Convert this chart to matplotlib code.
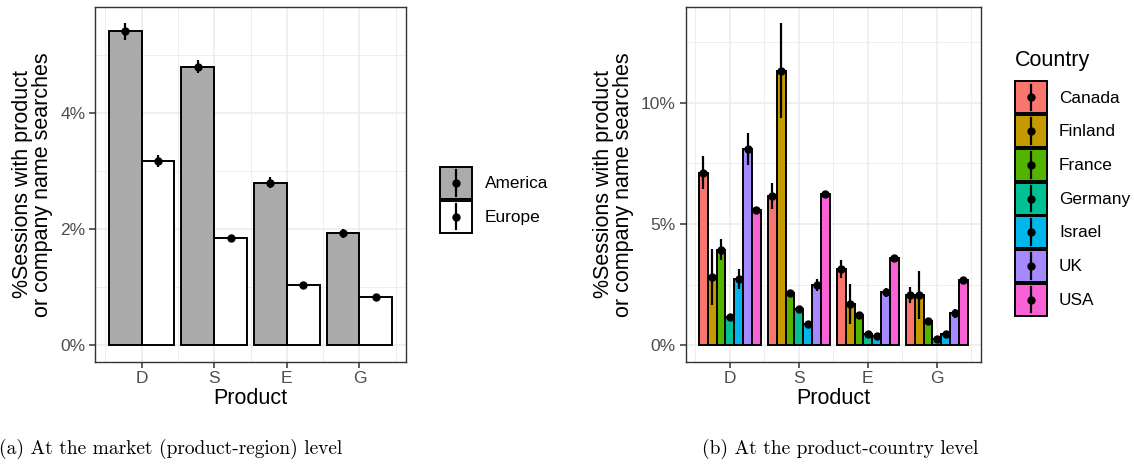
import numpy as np
import matplotlib
matplotlib.use("Agg")
from matplotlib import pyplot as plt
from matplotlib.patches import Patch, Rectangle
from matplotlib.lines import Line2D
from matplotlib.ticker import FuncFormatter

plt.rcParams["font.family"] = ["Liberation Sans", "DejaVu Sans"]

# data
products = ["D", "S", "E", "G"]

regions = ["America", "Europe"]
america = [5.40, 4.79, 2.80, 1.93]
america_err = [0.14, 0.11, 0.09, 0.08]
europe = [3.17, 1.85, 1.04, 0.83]
europe_err = [0.11, 0.03, 0.02, 0.02]

countries = ["Canada", "Finland", "France", "Germany", "Israel", "UK", "USA"]
# values per product: D, S, E, G
country_vals = {
    "Canada":  [7.12, 6.16, 3.15, 2.08],
    "Finland": [2.82, 11.32, 1.70, 2.08],
    "France":  [3.95, 2.16, 1.26, 0.99],
    "Germany": [1.18, 1.51, 0.49, 0.27],
    "Israel":  [2.74, 0.90, 0.41, 0.49],
    "UK":      [8.11, 2.49, 2.19, 1.32],
    "USA":     [5.59, 6.22, 3.62, 2.71],
}
country_err = {
    "Canada":  [0.67, 0.53, 0.37, 0.34],
    "Finland": [1.14, 1.96, 0.82, 0.99],
    "France":  [0.42, 0.08, 0.05, 0.04],
    "Germany": [0.05, 0.05, 0.04, 0.03],
    "Israel":  [0.42, 0.05, 0.04, 0.04],
    "UK":      [0.66, 0.25, 0.19, 0.17],
    "USA":     [0.05, 0.05, 0.04, 0.04],
}
country_colors = ["#F8766D", "#C49A00", "#53B400", "#00C094", "#00B6EB", "#A58AFF", "#FB61D7"]
region_colors = ["#ABABAB", "#FFFFFF"]

W, H = 1134, 474
fig = plt.figure(figsize=(W / 100, H / 100), dpi=100)

ax1 = fig.add_axes([95 / W, 1 - 361.5 / H, (406 - 95) / W, (361.5 - 7) / H])
ax2 = fig.add_axes([685.7 / W, 1 - 361.5 / H, (981 - 685.7) / W, (361.5 - 7) / H])

x = np.arange(1, len(products) + 1)
pct = FuncFormatter(lambda v, p: "%d%%" % v)


def style_axis(ax, major, minor, ylim):
    ax.set_xlim(0.36, 4.64)
    ax.set_ylim(*ylim)
    ax.set_xticks(x)
    ax.set_xticklabels(products)
    ax.set_xticks(list(x - 0.5) + [4.5], minor=True)
    ax.set_yticks(major)
    ax.set_yticks(minor, minor=True)
    ax.yaxis.set_major_formatter(pct)
    ax.grid(which="major", color="#EBEBEB", lw=1.1, zorder=0)
    ax.grid(which="minor", color="#EBEBEB", lw=0.6, zorder=0)
    ax.set_axisbelow(True)
    ax.tick_params(which="major", length=4, width=1.1, color="#333333",
                   labelsize=12.5, labelcolor="#4D4D4D", pad=3)
    ax.tick_params(which="minor", length=0)
    for s in ax.spines.values():
        s.set_color("#333333")
        s.set_linewidth(1.0)
    ax.set_xlabel("Product", fontsize=15.5, labelpad=1)
    ax.set_ylabel("%Sessions with product\nor company name searches",
                  fontsize=15.5, linespacing=0.95, labelpad=5)


# panel (a)
bw = 0.45
for i, (vals, errs) in enumerate([(america, america_err), (europe, europe_err)]):
    xi = x + (i - 0.5) * bw
    ax1.bar(xi, vals, width=bw, color=region_colors[i], edgecolor="black", lw=1.4, zorder=2)
    ax1.errorbar(xi, vals, yerr=errs, fmt="o", color="black", ms=5, elinewidth=1.6,
                 capsize=0, zorder=3)
style_axis(ax1, [0, 2, 4], [1, 3, 5], (-0.277, 5.82))

# panel (b)
bw2 = 0.9 / len(countries)
for i, c in enumerate(countries):
    xi = x + (i - 3) * bw2
    ax2.bar(xi, country_vals[c], width=bw2, color=country_colors[i], edgecolor="black",
            lw=1.4, zorder=2)
    ax2.errorbar(xi, country_vals[c], yerr=country_err[c], fmt="o", color="black", ms=5,
                 elinewidth=1.6, capsize=0, zorder=3)
style_axis(ax2, [0, 5, 10], [2.5, 7.5, 12.5], (-0.66, 13.94))


# legend key: filled box with a point-range drawn in the middle
class KeyHandler:
    def legend_artist(self, legend, orig_handle, fontsize, handlebox):
        x0, y0 = -handlebox.xdescent, -handlebox.ydescent
        w, h = handlebox.width, handlebox.height
        tr = handlebox.get_transform()
        rect = Rectangle((x0, y0), w, h, facecolor=orig_handle.get_facecolor(),
                         edgecolor="black", lw=1.4, transform=tr)
        handlebox.add_artist(rect)
        cx, cy = x0 + w / 2, y0 + h / 2
        handlebox.add_artist(Line2D([cx, cx], [y0 + 0.1 * h, y0 + 0.9 * h], color="black",
                                    lw=1.6, transform=tr))
        handlebox.add_artist(Line2D([cx], [cy], color="black", marker="o", ms=5, ls="",
                                    transform=tr))
        return rect


hmap = {Patch: KeyHandler()}
leg1 = fig.legend([Patch(facecolor=c) for c in region_colors], regions, handler_map=hmap,
                  loc="upper left", bbox_to_anchor=(440 / W, 1 - 167 / H),
                  frameon=False, fontsize=12.4, borderpad=0, borderaxespad=0,
                  handlelength=1.86, handleheight=2.48, labelspacing=0.1,
                  handletextpad=0.75)

leg2 = fig.legend([Patch(facecolor=c) for c in country_colors], countries, handler_map=hmap,
                  loc="upper left", bbox_to_anchor=(1015 / W, 1 - 50 / H),
                  frameon=False, fontsize=12.4, borderpad=0, borderaxespad=0,
                  handlelength=1.86, handleheight=2.48, labelspacing=0.1,
                  handletextpad=0.7, title="Country", title_fontsize=15.5,
                  alignment="left")
leg2._legend_box.sep = 7.5

fig.text(171 / W, 1 - 449 / H, "(a) At the market (product-region) level",
         ha="center", va="center", fontsize=14, family="cmr10")
fig.text(840 / W, 1 - 449 / H, "(b) At the product-country level",
         ha="center", va="center", fontsize=14, family="cmr10")

fig.savefig("out.png", dpi=100)
